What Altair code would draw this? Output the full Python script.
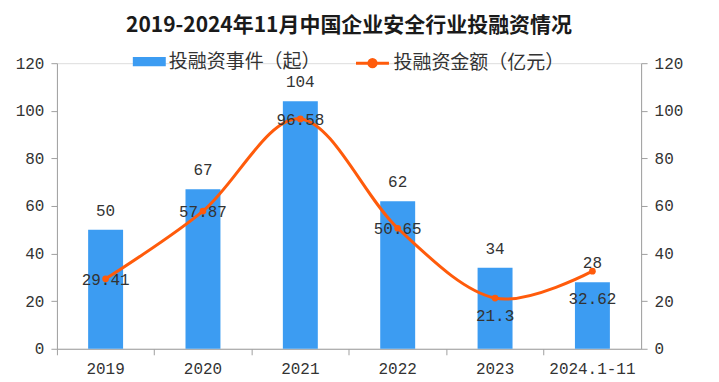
import altair as alt
import pandas as pd

categories = ["2019", "2020", "2021", "2022", "2023", "2024.1-11"]
events = [50, 67, 104, 62, 34, 28]
amounts = [29.41, 57.87, 96.58, 50.65, 21.3, 32.62]

S1 = "投融资事件（起）"
S2 = "投融资金额（亿元）"

df = pd.DataFrame({"cat": categories, "events": events, "amount": amounts,
                   "s1": S1, "s2": S2})

BLUE = "#3C9CF2"
ORANGE = "#FF5B0B"
NUMFONT = "Liberation Mono"
CJK = "Noto Sans CJK SC"
TXT = "#333333"
AX = "#A0A0A0"

x = alt.X("cat:N", sort=categories, title=None,
          scale=alt.Scale(paddingInner=0, paddingOuter=0),
          axis=alt.Axis(labelAngle=0, bandPosition=0, labelFont=NUMFONT, labelFontSize=16,
                        labelColor=TXT, domainColor=AX, tickColor=AX, tickSize=6,
                        labelPadding=6))

yscale = alt.Scale(domain=[0, 120], nice=False)

bars = alt.Chart(df).mark_bar(size=35).encode(
    x=x,
    y=alt.Y("events:Q", scale=yscale, title=None,
            axis=alt.Axis(values=[0, 20, 40, 60, 80, 100, 120], grid=False,
                          labelFont=NUMFONT, labelFontSize=16, labelColor=TXT,
                          domainColor=AX, tickColor=AX, tickSize=6, labelPadding=7)),
    color=alt.Color("s1:N", scale=alt.Scale(domain=[S1], range=[BLUE]),
                    legend=alt.Legend(title=None, orient="none", legendX=76, legendY=-18,
                                      symbolType="M-1,-0.28H1V0.28H-1Z", symbolSize=1089,
                                      symbolStrokeWidth=0, labelFont=CJK, labelFontSize=19,
                                      labelColor=TXT, labelOffset=3, labelLimit=400)),
)

bar_text = alt.Chart(df).mark_text(font=NUMFONT, fontSize=16, color=TXT, dy=-19,
                                   baseline="middle").encode(
    x=alt.X("cat:N", sort=categories),
    y=alt.Y("events:Q", scale=yscale),
    text=alt.Text("events:Q"),
)

left = alt.layer(bars, bar_text)

line = alt.Chart(df).mark_line(interpolate="cardinal", tension=0, strokeWidth=3).encode(
    x=alt.X("cat:N", sort=categories),
    y=alt.Y("amount:Q", scale=yscale, title=None,
            axis=alt.Axis(values=[0, 20, 40, 60, 80, 100, 120], grid=False, orient="right",
                          labelFont=NUMFONT, labelFontSize=16, labelColor=TXT,
                          domainColor=AX, tickColor=AX, tickSize=6, labelPadding=7)),
    color=alt.Color("s2:N", scale=alt.Scale(domain=[S2], range=[ORANGE]),
                    legend=alt.Legend(title=None, orient="none", legendX=298, legendY=-18,
                                      symbolType="M-1,0H1M0.22,0A0.22,0.22 0 1 1 -0.22,0A0.22,0.22 0 1 1 0.22,0Z",
                                      symbolSize=1089, symbolStrokeWidth=3,
                                      symbolFillColor=ORANGE, labelFont=CJK, labelFontSize=19,
                                      labelColor=TXT, labelOffset=3, labelLimit=400)),
)

pts = alt.Chart(df).mark_circle(size=45, color=ORANGE, opacity=1).encode(
    x=alt.X("cat:N", sort=categories),
    y=alt.Y("amount:Q", scale=yscale),
)

def amt_text(cats, dy):
    return alt.Chart(df).transform_filter(
        alt.FieldOneOfPredicate(field="cat", oneOf=cats)
    ).mark_text(font=NUMFONT, fontSize=16, color=TXT, dy=dy, baseline="middle").encode(
        x=alt.X("cat:N", sort=categories),
        y=alt.Y("amount:Q", scale=yscale),
        text=alt.Text("amount:Q"),
    )

right = alt.layer(line, pts,
                  amt_text(categories[:4], 1),
                  amt_text([categories[4]], 18),
                  amt_text([categories[5]], 28))

chart = alt.layer(left, right).resolve_scale(y="independent", color="independent").properties(
    width=585, height=286,
    autosize=alt.AutoSizeParams(type="none"),
    padding={"left": 49, "top": 55, "right": 70, "bottom": 30},
    title=alt.Title("2019-2024年11月中国企业安全行业投融资情况", font=CJK, fontSize=21,
                    fontWeight="bold", color="#1A1A1A", anchor="middle", offset=9),
).configure_view(stroke=None).configure(background="white")

chart.save("out.html", embed_options={"renderer": "svg", "actions": False})
